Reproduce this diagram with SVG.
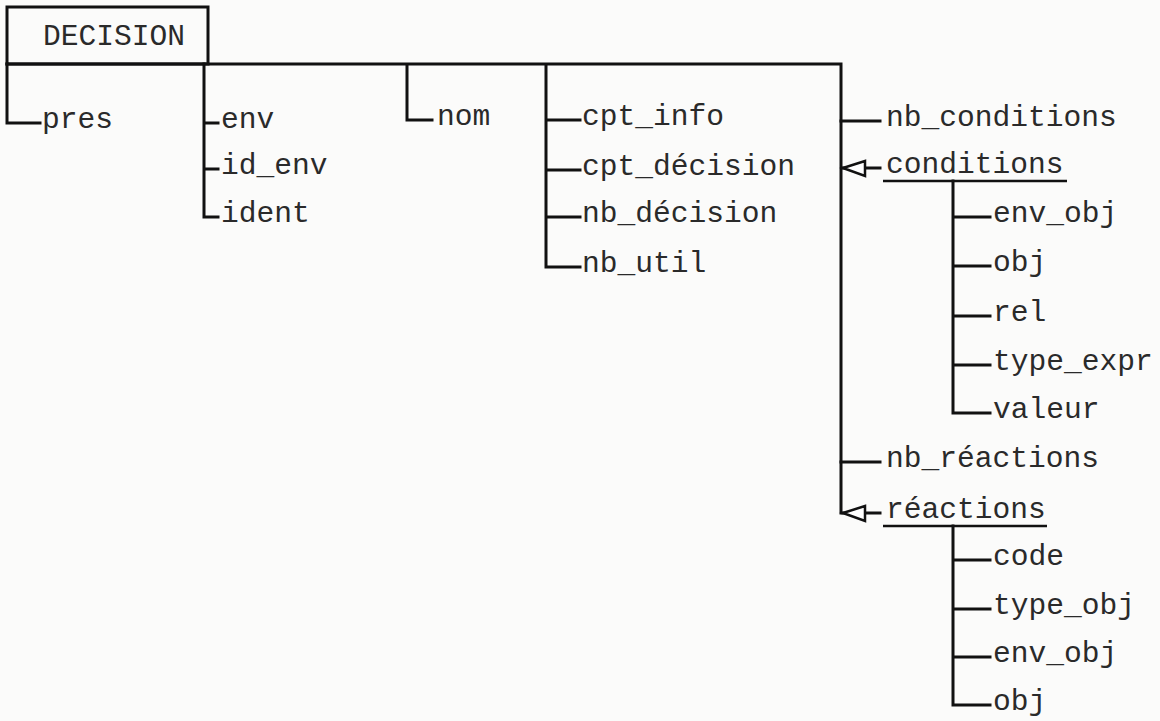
<svg xmlns="http://www.w3.org/2000/svg" width="1160" height="721" viewBox="0 0 1160 721">
<style>
  .t { font-family: "Liberation Mono", "Courier New", monospace; font-size: 29.6px; fill: #2a2a2a; }
  .c { stroke: #111; stroke-width: 3; fill: none; stroke-linecap: square; }
  .u { stroke: #111; stroke-width: 2.5; }
  .a { stroke: #111; stroke-width: 2.5; fill: #fff; stroke-linejoin: miter; }
</style>
<rect width="1160" height="721" fill="#fbfbfa"/>
<g id="connectors">
  <path class="c" d="M7 64 H841 V513"/>
  <path class="c" d="M7 64 V123 H40"/>
  <path class="c" d="M204 64 V217 H218 M204 123 H218 M204 169 H218"/>
  <path class="c" d="M407 66 V120 H432"/>
  <path class="c" d="M546 66 V267 H580 M546 120 H580 M546 170 H580 M546 217 H580"/>
  <path class="c" d="M841 121 H880"/>
  <path class="c" d="M841 462 H880"/>
  <path class="c" d="M843 168 H880"/>
  <polygon class="a" points="843,168 865,161 865,176"/>
  <path class="c" d="M843 513 H880"/>
  <polygon class="a" points="843,513 865,506 865,521"/>
  <path class="c" d="M953 181 V413 H990 M953 217 H990 M953 266 H990 M953 316 H990 M953 365 H990"/>
  <path class="c" d="M953 526 V705 H990 M953 560 H990 M953 609 H990 M953 657 H990"/>
</g>
<g id="DECISION">
  <rect x="7" y="7" width="201" height="57" fill="none" stroke="#111" stroke-width="3"/>
  <text class="t" x="43" y="45">DECISION</text>
</g>
<g id="pres"><text class="t" x="42" y="128">pres</text></g>
<g id="env"><text class="t" x="221" y="128">env</text></g>
<g id="id_env"><text class="t" x="221" y="174">id_env</text></g>
<g id="ident"><text class="t" x="221" y="222">ident</text></g>
<g id="nom"><text class="t" x="437" y="125">nom</text></g>
<g id="cpt_info"><text class="t" x="582" y="125">cpt_info</text></g>
<g id="cpt_decision"><text class="t" x="582" y="175">cpt_décision</text></g>
<g id="nb_decision"><text class="t" x="582" y="222">nb_décision</text></g>
<g id="nb_util"><text class="t" x="582" y="272">nb_util</text></g>
<g id="nb_conditions"><text class="t" x="886" y="126">nb_conditions</text></g>
<g id="conditions">
  <text class="t" x="886" y="173">conditions</text>
  <line class="u" x1="883" y1="181" x2="1067" y2="181"/>
</g>
<g id="c_env_obj"><text class="t" x="993" y="222">env_obj</text></g>
<g id="c_obj"><text class="t" x="993" y="271">obj</text></g>
<g id="c_rel"><text class="t" x="993" y="321">rel</text></g>
<g id="c_type_expr"><text class="t" x="993" y="370">type_expr</text></g>
<g id="c_valeur"><text class="t" x="993" y="418">valeur</text></g>
<g id="nb_reactions"><text class="t" x="886" y="467">nb_réactions</text></g>
<g id="reactions">
  <text class="t" x="886" y="518">réactions</text>
  <line class="u" x1="883" y1="526" x2="1047" y2="526"/>
</g>
<g id="r_code"><text class="t" x="993" y="565">code</text></g>
<g id="r_type_obj"><text class="t" x="993" y="614">type_obj</text></g>
<g id="r_env_obj"><text class="t" x="993" y="662">env_obj</text></g>
<g id="r_obj"><text class="t" x="993" y="710">obj</text></g>
</svg>
